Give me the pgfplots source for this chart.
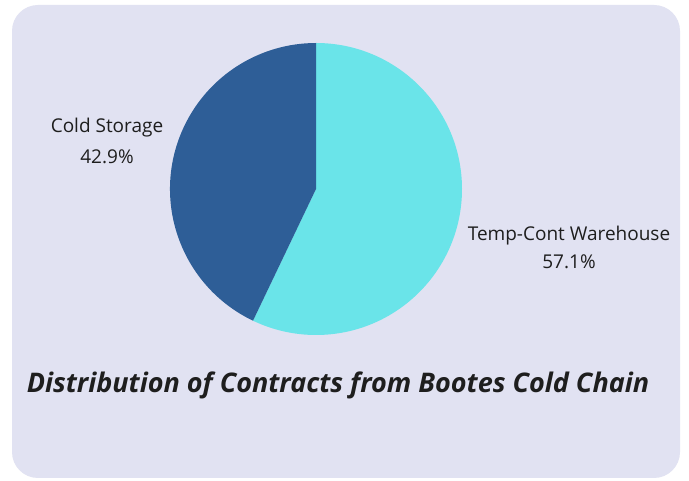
\documentclass[border=0pt]{standalone}
\usepackage{pgfplots}
\pgfplotsset{compat=1.18}
\usepackage{fontspec}
\setmainfont{Open Sans}
\definecolor{bgpanel}{RGB}{225,226,242}
\definecolor{slicecyan}{RGB}{106,228,233}
\definecolor{sliceblue}{RGB}{46,94,151}
\definecolor{txt}{RGB}{30,30,30}
% data (percent)
\def\valTemp{57.1}
\def\valCold{42.9}
\begin{document}
\begin{tikzpicture}[x=1pt,y=1pt]
\fill[white] (0,0) rectangle (689,480);
\begin{axis}[
  at={(0,0)}, anchor=origin,
  x=1pt, y=1pt,
  xmin=0, xmax=689, ymin=0, ymax=480,
  hide axis, clip=false, scale only axis,
]
\fill[bgpanel, rounded corners=26pt] (axis cs:12,2) rectangle (axis cs:680,475);
\pgfmathsetmacro{\angA}{90-\valTemp*3.6}
\fill[slicecyan] (axis cs:316,291) -- ++(90:146pt) arc[start angle=90, end angle=\angA, radius=146pt] -- cycle;
\fill[sliceblue] (axis cs:316,291) -- ++(\angA:146pt) arc[start angle=\angA, end angle=\angA-\valCold*3.6, radius=146pt] -- cycle;
\node[txt, font=\fontsize{19}{22}\selectfont, align=center] at (axis cs:107,352) {Cold Storage};
\node[txt, font=\fontsize{19}{22}\selectfont, align=center] at (axis cs:107,323) {\valCold\%};
\node[txt, font=\fontsize{19}{22}\selectfont, align=center] at (axis cs:569,244) {Temp-Cont Warehouse};
\node[txt, font=\fontsize{19}{22}\selectfont, align=center] at (axis cs:569,218) {\valTemp\%};
\node[txt, font=\fontsize{27}{30}\selectfont\bfseries\itshape, anchor=base] at (axis cs:338,87) {Distribution of Contracts from Bootes Cold Chain};
\end{axis}
\end{tikzpicture}
\end{document}
